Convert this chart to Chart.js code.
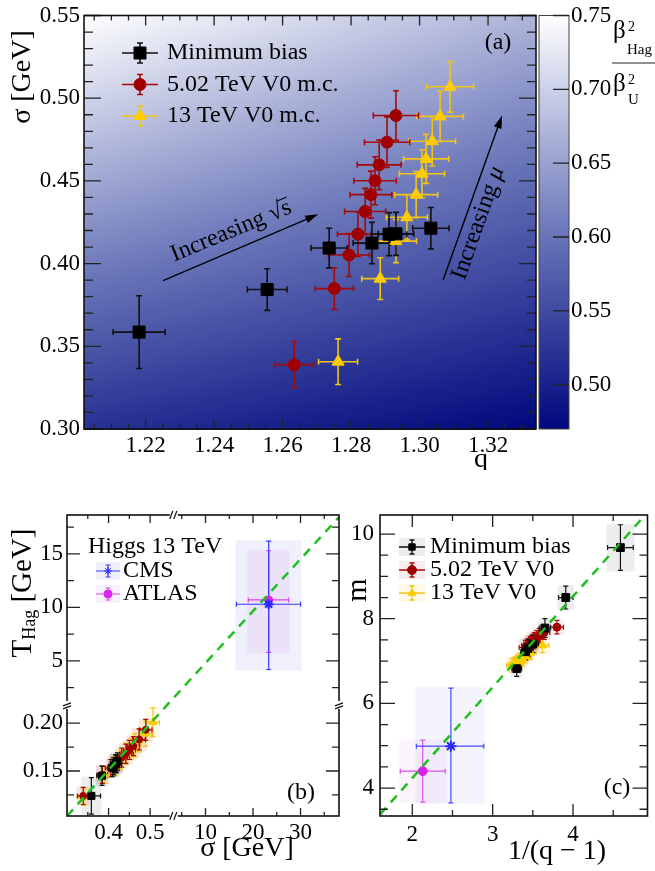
<!DOCTYPE html>
<html>
<head>
<meta charset="utf-8">
<script src="https://cdn.jsdelivr.net/npm/chart.js@4/dist/chart.umd.min.js"></script>
<style>
body { margin: 0; background: #fff; width: 655px; height: 871px; position: relative; overflow: hidden; }
canvas { position: absolute; }
</style>
</head>
<body>
<canvas id="ca" width="655" height="470" style="left:0;top:0"></canvas>
<canvas id="cb" width="346" height="381" style="left:0;top:490px"></canvas>
<canvas id="cc" width="309" height="381" style="left:346px;top:490px"></canvas>
<script>
// ---- panel (a): sigma vs q ----
var mbQ         = [1.2181, 1.2555, 1.2736, 1.2861, 1.2911, 1.2931, 1.3033];
var mbQErr      = [0.0076, 0.0058, 0.0053, 0.0055, 0.0052, 0.0052, 0.0053];
var mbSigma     = [0.3586, 0.3843, 0.4094, 0.4124, 0.4178, 0.4180, 0.4214];
var mbSigmaErr  = [0.0220, 0.0126, 0.0120, 0.0125, 0.0130, 0.0130, 0.0125];

var v5Q         = [1.2634, 1.2751, 1.2794, 1.2820, 1.2841, 1.2858, 1.2870, 1.2882, 1.2905, 1.2931];
var v5QErr      = [0.0056, 0.0056, 0.0060, 0.0060, 0.0060, 0.0061, 0.0062, 0.0064, 0.0066, 0.0066];
var v5Sigma     = [0.3389, 0.3849, 0.4052, 0.4178, 0.4315, 0.4417, 0.4501, 0.4597, 0.4734, 0.4895];
var v5SigmaErr  = [0.0140, 0.0126, 0.0130, 0.0135, 0.0140, 0.0142, 0.0145, 0.0150, 0.0152, 0.0150];

var v13Q        = [1.2762, 1.2885, 1.2931, 1.2963, 1.2990, 1.3007, 1.3019, 1.3037, 1.3060, 1.3089];
var v13QErr     = [0.0057, 0.0054, 0.0060, 0.0060, 0.0063, 0.0066, 0.0066, 0.0068, 0.0068, 0.0069];
var v13Sigma    = [0.3407, 0.3909, 0.4136, 0.4280, 0.4417, 0.4543, 0.4633, 0.4740, 0.4890, 0.5069];
var v13SigmaErr = [0.0138, 0.0126, 0.0130, 0.0135, 0.0140, 0.0145, 0.0148, 0.0150, 0.0152, 0.0153];

// background ratio beta_Hag^2 / beta_U^2 at the corners of panel (a)
var fieldQ     = [1.202, 1.334];
var fieldSigma = [0.30, 0.55];
var fieldVal   = [[0.52, 0.47], [0.75, 0.67]];
var cbStops    = [0.47, 0.61, 0.75];
var cbColors   = [[0, 8, 125], [112, 124, 188], [255, 255, 255]];

// ---- panel (b): T_Hag vs sigma ----
var mbT     = [0.124, 0.145, 0.153, 0.155, 0.158, 0.157, 0.160];
var mbTErr  = [0.019, 0.010, 0.009, 0.009, 0.009, 0.009, 0.009];
var v5T     = [0.124, 0.146, 0.153, 0.158, 0.164, 0.168, 0.172, 0.176, 0.183, 0.193];
var v5TErr  = [0.009, 0.009, 0.009, 0.009, 0.010, 0.010, 0.010, 0.010, 0.011, 0.011];
var v13T    = [0.123, 0.146, 0.155, 0.162, 0.168, 0.173, 0.177, 0.182, 0.189, 0.201];
var v13TErr = [0.009, 0.009, 0.010, 0.010, 0.011, 0.011, 0.012, 0.012, 0.013, 0.015];

var cmsSigma = [23.3], cmsSigmaErr = [[6.8, 6.7]], cmsT = [10.3], cmsTErr = [[6.1, 5.9]];
var atlSigma = [23.3], atlSigmaErr = [[4.3, 4.2]], atlT = [10.7], atlTErr = [[4.9, 4.6]];
var guideBX = [0.30, 0.541, 0.557, 38.1];
var guideBY = [0.103, 0.219, 1.57, 18.45];

// ---- panel (c): m vs 1/(q-1) ----
var mbInvQ     = [4.59, 3.91, 3.65, 3.50, 3.44, 3.41, 3.30];
var mbInvQErr  = [0.16, 0.09, 0.07, 0.07, 0.06, 0.06, 0.06];
var mbM        = [9.68, 8.50, 7.78, 7.40, 7.30, 7.22, 6.82];
var mbMErr     = [0.54, 0.27, 0.22, 0.20, 0.20, 0.20, 0.18];
var v5InvQ     = [3.80, 3.64, 3.58, 3.55, 3.52, 3.50, 3.48, 3.47, 3.44, 3.41];
var v5InvQErr  = [0.08, 0.07, 0.07, 0.07, 0.07, 0.07, 0.07, 0.08, 0.08, 0.08];
var v5M        = [7.80, 7.68, 7.60, 7.55, 7.50, 7.46, 7.42, 7.40, 7.36, 7.32];
var v5MErr     = [0.16, 0.17, 0.17, 0.17, 0.17, 0.17, 0.17, 0.17, 0.17, 0.17];
var v13InvQ    = [3.62, 3.47, 3.41, 3.37, 3.34, 3.33, 3.31, 3.29, 3.27, 3.24];
var v13InvQErr = [0.08, 0.07, 0.07, 0.07, 0.07, 0.07, 0.07, 0.07, 0.07, 0.07];
var v13M       = [7.37, 7.20, 7.12, 7.06, 7.02, 7.00, 6.97, 6.94, 6.92, 6.90];
var v13MErr    = [0.17, 0.16, 0.16, 0.16, 0.16, 0.16, 0.16, 0.16, 0.16, 0.16];

var cmsInvQ = [2.48], cmsInvQErr = [[0.43, 0.41]], cmsM = [4.99], cmsMErr = [[1.34, 1.37]];
var atlInvQ = [2.13], atlInvQErr = [[0.28, 0.28]], atlM = [4.40], atlMErr = [[0.73, 0.73]];
var guideCX = [1.60, 4.93];
var guideCY = [3.38, 10.52];

// ---- ticks ----
function range(a, b, step) {
  var out = [];
  for (var i = 0; a + i * step <= b + 1e-9; i++) out.push(+(a + i * step).toFixed(4));
  return out;
}
var aTicksX = range(1.205, 1.330, 0.005), aMajorX = [1.22, 1.24, 1.26, 1.28, 1.30, 1.32];
var aLabelsX = ['1.22', '1.24', '1.26', '1.28', '1.30', '1.32'];
var aTicksY = range(0.30, 0.55, 0.01), aMajorY = [0.30, 0.35, 0.40, 0.45, 0.50, 0.55];
var aLabelsY = ['0.30', '0.35', '0.40', '0.45', '0.50', '0.55'];
var cbMajor = [0.50, 0.55, 0.60, 0.65, 0.70, 0.75];
var cbLabels = ['0.50', '0.55', '0.60', '0.65', '0.70', '0.75'];
var bTicksX = [0.35, 0.4, 0.45, 0.5, 5, 10, 15, 20, 25, 30, 35], bMajorX = [0.4, 0.5, 10, 20, 30];
var bLabelsX = ['0.4', '0.5', '10', '20', '30'];
var bTicksY = [0.125, 0.15, 0.175, 0.2, 2.5, 5, 7.5, 10, 12.5, 15, 17.5], bMajorY = [0.15, 0.2, 5, 10, 15];
var bLabelsY = ['0.15', '0.20', '5', '10', '15'];
var cTicksX = range(2, 4.5, 0.5), cMajorX = [2, 3, 4], cLabelsX = ['2', '3', '4'];
var cTicksY = range(3.5, 10, 0.5), cMajorY = [4, 6, 8, 10], cLabelsY = ['4', '6', '8', '10'];

var SERIF = "'Liberation Serif', 'DejaVu Serif', serif";
Chart.defaults.font.family = SERIF;
Chart.defaults.color = '#000';
Chart.defaults.animation = false;

// piecewise linear scale for the broken axes of panel (b)
var breakSegs = {
  cb_x: [{ lo: 0.30, hi: 0.557, from: 0, to: 0.3927 }, { lo: 3.33, hi: 38.1, from: 0.3927, to: 1 }],
  cb_y: [{ lo: 0.103, hi: 0.219, from: 0, to: 0.369 }, { lo: 0.89, hi: 18.64, from: 0.369, to: 1 }]
};
class BrokenScale extends Chart.LinearScale {
  segs() { return breakSegs[this.chart.canvas.id + '_' + this.id]; }
  getPixelForValue(v) {
    var s = this.segs(), d = 0;
    for (var i = 0; i < s.length; i++) {
      var g = s[i];
      if (v <= g.hi || i === s.length - 1) {
        d = v < g.lo ? g.from : g.from + (v - g.lo) / (g.hi - g.lo) * (g.to - g.from);
        break;
      }
    }
    return this.getPixelForDecimal(d);
  }
  getValueForPixel(p) {
    var d = this.getDecimalForPixel(p), s = this.segs();
    for (var i = 0; i < s.length; i++) {
      var g = s[i];
      if (d <= g.to || i === s.length - 1) return g.lo + (d - g.from) / (g.to - g.from) * (g.hi - g.lo);
    }
  }
}
BrokenScale.id = 'broken';
BrokenScale.defaults = {};
Chart.register(BrokenScale);

function pts(xs, ys) { return xs.map(function (x, i) { return { x: x, y: ys[i] }; }); }
function two(e) { return Array.isArray(e) ? e : [e, e]; }
function labelFor(v, majors, labels) {
  for (var i = 0; i < majors.length; i++) if (Math.abs(v - majors[i]) < 1e-6) return labels[i];
  return '';
}

function axis(type, min, max, ticks, majors, labels, pos, size, pad) {
  return {
    type: type, position: pos, min: min, max: max,
    grid: { display: false, drawTicks: false }, border: { display: false },
    ticks: {
      autoSkip: false, maxRotation: 0, padding: pad, color: '#000',
      font: { size: 23, lineHeight: 1 },
      callback: function (v) { return labelFor(v, majors, labels); }
    },
    afterBuildTicks: function (s) { s.ticks = ticks.map(function (v) { return { value: v }; }); },
    afterFit: function (s) { if (pos === 'bottom') s.height = size; else s.width = size; }
  };
}

function cmap(v) {
  if (v <= cbStops[0]) return cbColors[0];
  for (var i = 1; i < cbStops.length; i++) {
    if (v <= cbStops[i]) {
      var t = (v - cbStops[i - 1]) / (cbStops[i] - cbStops[i - 1]);
      var a = cbColors[i - 1], b = cbColors[i];
      return [a[0] + t * (b[0] - a[0]), a[1] + t * (b[1] - a[1]), a[2] + t * (b[2] - a[2])];
    }
  }
  return cbColors[cbColors.length - 1];
}
function field(q, s) {
  var tq = Math.min(1, Math.max(0, (q - fieldQ[0]) / (fieldQ[1] - fieldQ[0])));
  var ts = Math.min(1, Math.max(0, (s - fieldSigma[0]) / (fieldSigma[1] - fieldSigma[0])));
  var lo = fieldVal[0][0] + tq * (fieldVal[0][1] - fieldVal[0][0]);
  var hi = fieldVal[1][0] + tq * (fieldVal[1][1] - fieldVal[1][0]);
  return lo + ts * (hi - lo);
}

function drawRuns(ctx, runs, x, y, rot, align) {
  ctx.save();
  ctx.translate(x, y);
  ctx.rotate((rot || 0) * Math.PI / 180);
  ctx.textBaseline = 'middle';
  ctx.textAlign = 'left';
  ctx.fillStyle = '#000';
  var w = 0;
  runs.forEach(function (r) {
    ctx.font = (r.it ? 'italic ' : '') + r.size + 'px ' + SERIF;
    r.w = ctx.measureText(r.t).width;
    w += r.w;
  });
  var cx = align === 'left' ? 0 : align === 'right' ? -w : -w / 2;
  runs.forEach(function (r) {
    var dy = r.dy || 0;
    ctx.font = (r.it ? 'italic ' : '') + r.size + 'px ' + SERIF;
    ctx.fillText(r.t, cx, dy);
    if (r.over) {
      ctx.strokeStyle = '#000';
      ctx.lineWidth = 1.2;
      ctx.beginPath();
      ctx.moveTo(cx - 1, dy - r.size * 0.43);
      ctx.lineTo(cx + r.w, dy - r.size * 0.43);
      ctx.stroke();
    }
    cx += r.w;
  });
  ctx.restore();
}

// error bars and shaded boxes, placed with the chart scales
function makeErrBars(lw, cap) {
  return {
    id: 'errBars',
    beforeDatasetsDraw: function (chart) {
      var ctx = chart.ctx, a = chart.chartArea, xs = chart.scales.x, ys = chart.scales.y;
      var sets = chart.data.datasets;
      ctx.save();
      ctx.beginPath();
      ctx.rect(a.left, a.top, a.right - a.left, a.bottom - a.top);
      ctx.clip();
      sets.forEach(function (ds) {
        if (!ds.boxColor || !ds.xErr) return;
        ctx.fillStyle = ds.boxColor;
        ds.data.forEach(function (p, i) {
          var ex = two(ds.xErr[i]), ey = two(ds.yErr[i]);
          var x0 = xs.getPixelForValue(p.x - ex[0]), x1 = xs.getPixelForValue(p.x + ex[1]);
          var y0 = ys.getPixelForValue(p.y + ey[1]), y1 = ys.getPixelForValue(p.y - ey[0]);
          ctx.fillRect(x0 - 1, y0 - 1, x1 - x0 + 2, y1 - y0 + 2);
        });
      });
      for (var k = sets.length - 1; k >= 0; k--) {
        var ds = sets[k];
        if (!ds.xErr) continue;
        ctx.strokeStyle = ds.errColor;
        ctx.lineWidth = lw;
        ctx.beginPath();
        ds.data.forEach(function (p, i) {
          var ex = two(ds.xErr[i]), ey = two(ds.yErr[i]);
          var px = xs.getPixelForValue(p.x), py = ys.getPixelForValue(p.y);
          var x0 = xs.getPixelForValue(p.x - ex[0]), x1 = xs.getPixelForValue(p.x + ex[1]);
          var y0 = ys.getPixelForValue(p.y + ey[1]), y1 = ys.getPixelForValue(p.y - ey[0]);
          ctx.moveTo(x0, py); ctx.lineTo(x1, py);
          ctx.moveTo(px, y0); ctx.lineTo(px, y1);
          ctx.moveTo(x0, py - cap); ctx.lineTo(x0, py + cap);
          ctx.moveTo(x1, py - cap); ctx.lineTo(x1, py + cap);
          ctx.moveTo(px - cap, y0); ctx.lineTo(px + cap, y0);
          ctx.moveTo(px - cap, y1); ctx.lineTo(px + cap, y1);
        });
        ctx.stroke();
      }
      ctx.restore();
    }
  };
}

// frame with inward ticks on all four sides
function makeFrame(t, breaks) {
  return {
    id: 'frame',
    afterDatasetsDraw: function (chart) {
      var ctx = chart.ctx, a = chart.chartArea, xs = chart.scales.x, ys = chart.scales.y;
      ctx.save();
      ctx.strokeStyle = '#222';
      ctx.lineWidth = 1.3;
      ctx.beginPath();
      xs.ticks.forEach(function (tk) {
        var p = xs.getPixelForValue(tk.value), L = tk.label ? t.xMajor : t.xMinor;
        ctx.moveTo(p, a.bottom); ctx.lineTo(p, a.bottom - L);
        ctx.moveTo(p, a.top); ctx.lineTo(p, a.top + L);
      });
      ys.ticks.forEach(function (tk) {
        var p = ys.getPixelForValue(tk.value), L = tk.label ? t.yMajor : t.yMinor;
        ctx.moveTo(a.left, p); ctx.lineTo(a.left + L, p);
        ctx.moveTo(a.right, p); ctx.lineTo(a.right - L, p);
      });
      ctx.stroke();
      ctx.strokeStyle = '#111';
      ctx.lineWidth = 1.6;
      ctx.strokeRect(a.left, a.top, a.right - a.left, a.bottom - a.top);
      if (breaks) {
        var xb = xs.getPixelForDecimal(breakSegs.cb_x[0].to);
        var yb = ys.getPixelForDecimal(breakSegs.cb_y[0].to);
        ctx.fillStyle = '#fff';
        ctx.fillRect(xb - 4, a.top - 3, 8, 6);
        ctx.fillRect(xb - 4, a.bottom - 3, 8, 6);
        ctx.fillRect(a.left - 3, yb - 4, 6, 8);
        ctx.fillRect(a.right - 3, yb - 4, 6, 8);
        ctx.lineWidth = 1.2;
        ctx.beginPath();
        [a.top, a.bottom].forEach(function (y) {
          ctx.moveTo(xb - 4, y + 4); ctx.lineTo(xb - 1, y - 4);
          ctx.moveTo(xb, y + 4); ctx.lineTo(xb + 3, y - 4);
        });
        [a.left, a.right].forEach(function (x) {
          ctx.moveTo(x - 4, yb + 1); ctx.lineTo(x + 4, yb - 2);
          ctx.moveTo(x - 4, yb + 4); ctx.lineTo(x + 4, yb + 1);
        });
        ctx.stroke();
      }
      ctx.restore();
    }
  };
}

function drawMarker(ctx, style, r, x, y) {
  if (Chart.helpers && Chart.helpers.drawPoint) {
    Chart.helpers.drawPoint(ctx, { pointStyle: style, radius: r, rotation: 0, borderWidth: 1 }, x, y);
  } else {
    ctx.beginPath(); ctx.arc(x, y, r, 0, 2 * Math.PI); ctx.fill();
  }
}

// legend rows with error-bar style keys
function makeLegend(cfg) {
  return {
    id: 'legendBox',
    afterDatasetsDraw: function (chart) {
      var ctx = chart.ctx;
      ctx.save();
      ctx.font = cfg.size + 'px ' + SERIF;
      ctx.textBaseline = 'middle';
      ctx.textAlign = 'left';
      if (cfg.header) { ctx.fillStyle = '#000'; ctx.fillText(cfg.header, cfg.hx, cfg.hy); }
      cfg.rows.forEach(function (k, i) {
        var ds = chart.data.datasets[k], x = cfg.x, y = cfg.y + i * cfg.dy;
        if (cfg.shade) {
          ctx.fillStyle = ds.boxColor;
          ctx.fillRect(x - cfg.half, y - cfg.shade, 2 * cfg.half, 2 * cfg.shade);
        }
        ctx.strokeStyle = ds.errColor;
        ctx.lineWidth = cfg.lw;
        ctx.beginPath();
        ctx.moveTo(x - cfg.half, y); ctx.lineTo(x + cfg.half, y);
        ctx.moveTo(x, y - cfg.bar); ctx.lineTo(x, y + cfg.bar);
        ctx.moveTo(x - cfg.cap, y - cfg.bar); ctx.lineTo(x + cfg.cap, y - cfg.bar);
        ctx.moveTo(x - cfg.cap, y + cfg.bar); ctx.lineTo(x + cfg.cap, y + cfg.bar);
        ctx.stroke();
        ctx.fillStyle = ds.backgroundColor;
        ctx.strokeStyle = ds.borderColor;
        ctx.lineWidth = 1;
        drawMarker(ctx, ds.pointStyle, cfg.r || ds.pointRadius, x, y);
        ctx.font = cfg.size + 'px ' + SERIF;
        ctx.fillStyle = '#000';
        ctx.fillText(ds.label, cfg.tx, y);
      });
      ctx.restore();
    }
  };
}

function makeTexts(items) {
  return {
    id: 'texts',
    afterDraw: function (chart) {
      var ctx = chart.ctx;
      items.forEach(function (it) {
        var x = it.x, y = it.y;
        if (it.at) { x = chart.scales.x.getPixelForValue(it.at[0]); y = chart.scales.y.getPixelForValue(it.at[1]); }
        drawRuns(ctx, it.runs, x, y, it.rot, it.align);
      });
    }
  };
}

function hadronSets(xsMB, ysMB, exMB, eyMB, x5, y5, ex5, ey5, x13, y13, ex13, ey13, r, shade) {
  return [
    { label: 'Minimum bias', data: pts(xsMB, ysMB), xErr: exMB, yErr: eyMB, pointStyle: 'rect',
      pointRadius: r[0], backgroundColor: '#000', borderColor: '#000', errColor: '#111',
      boxColor: shade ? 'rgba(60,60,60,0.09)' : null },
    { label: '5.02 TeV V0', data: pts(x5, y5), xErr: ex5, yErr: ey5, pointStyle: 'circle',
      pointRadius: r[1], backgroundColor: '#a00000', borderColor: '#a00000', errColor: '#a40a0a',
      boxColor: shade ? 'rgba(170,20,20,0.08)' : null },
    { label: '13 TeV V0', data: pts(x13, y13), xErr: ex13, yErr: ey13, pointStyle: 'triangle',
      pointRadius: r[2], backgroundColor: '#ffcc00', borderColor: '#ffcc00', errColor: '#f0c419',
      boxColor: shade ? 'rgba(255,190,0,0.09)' : null }
  ];
}

// ================= panel (a) =================
var setsA = hadronSets(mbQ, mbSigma, mbQErr, mbSigmaErr, v5Q, v5Sigma, v5QErr, v5SigmaErr,
                       v13Q, v13Sigma, v13QErr, v13SigmaErr, [8.5, 6, 7], false);
setsA[1].label = '5.02 TeV V0 m.c.';
setsA[2].label = '13 TeV V0 m.c.';

var backgroundA = {
  id: 'fieldBg',
  beforeDatasetsDraw: function (chart) {
    var ctx = chart.ctx, a = chart.chartArea, xs = chart.scales.x, ys = chart.scales.y;
    var w = Math.round(a.right - a.left), h = Math.round(a.bottom - a.top);
    var off = document.createElement('canvas');
    off.width = w; off.height = h;
    var octx = off.getContext('2d'), img = octx.createImageData(w, h);
    for (var j = 0; j < h; j++) {
      var s = ys.getValueForPixel(a.top + j + 0.5);
      for (var i = 0; i < w; i++) {
        var c = cmap(field(xs.getValueForPixel(a.left + i + 0.5), s)), o = (j * w + i) * 4;
        img.data[o] = c[0]; img.data[o + 1] = c[1]; img.data[o + 2] = c[2]; img.data[o + 3] = 255;
      }
    }
    octx.putImageData(img, 0, 0);
    ctx.drawImage(off, a.left, a.top);

    // colour bar on the hidden 'cb' scale
    var cb = chart.scales.cb, x0 = a.right + 3, x1 = x0 + 30;
    var yTop = cb.getPixelForValue(cbStops[cbStops.length - 1]), yBot = cb.getPixelForValue(cbStops[0]);
    var g = ctx.createLinearGradient(0, yBot, 0, yTop);
    cbStops.forEach(function (v, i) {
      var c = cbColors[i];
      g.addColorStop((v - cbStops[0]) / (cbStops[cbStops.length - 1] - cbStops[0]),
        'rgb(' + c.map(Math.round).join(',') + ')');
    });
    ctx.save();
    ctx.fillStyle = g;
    ctx.fillRect(x0, yTop, x1 - x0, yBot - yTop);
    ctx.strokeStyle = '#444';
    ctx.lineWidth = 1;
    ctx.strokeRect(x0, yTop, x1 - x0, yBot - yTop);
    ctx.strokeStyle = '#222';
    ctx.lineWidth = 1.3;
    ctx.beginPath();
    cbMajor.forEach(function (v) {
      var p = cb.getPixelForValue(v);
      ctx.moveTo(x1, p); ctx.lineTo(x1 - 16, p);
    });
    ctx.stroke();
    ctx.fillStyle = '#000';
    ctx.font = '23px ' + SERIF;
    ctx.textAlign = 'left';
    ctx.textBaseline = 'middle';
    cbMajor.forEach(function (v, i) { ctx.fillText(cbLabels[i], x1 + 2, cb.getPixelForValue(v)); });

    // colour bar title: beta_Hag^2 / beta_U^2
    ctx.textBaseline = 'alphabetic';
    ctx.font = '25px ' + SERIF; ctx.fillText('\u03b2', 613, 38);
    ctx.font = '14px ' + SERIF; ctx.fillText('2', 628, 31);
    ctx.font = '15px ' + SERIF; ctx.fillText('Hag', 627, 54);
    ctx.font = '25px ' + SERIF; ctx.fillText('\u03b2', 613, 91);
    ctx.font = '14px ' + SERIF; ctx.fillText('2', 628, 84);
    ctx.font = '15px ' + SERIF; ctx.fillText('U', 628, 104);
    ctx.lineWidth = 1.2;
    ctx.beginPath(); ctx.moveTo(612, 63); ctx.lineTo(655, 63); ctx.stroke();
    ctx.restore();
  }
};

var arrowsA = [
  { from: [1.2251, 0.3897], to: [1.2704, 0.4298] },
  { from: [1.3069, 0.3903], to: [1.3241, 0.4896] }
];
var arrowPlugin = {
  id: 'arrows',
  afterDatasetsDraw: function (chart) {
    var ctx = chart.ctx, xs = chart.scales.x, ys = chart.scales.y;
    ctx.save();
    ctx.strokeStyle = '#000'; ctx.fillStyle = '#000'; ctx.lineWidth = 1.4;
    arrowsA.forEach(function (ar) {
      var x0 = xs.getPixelForValue(ar.from[0]), y0 = ys.getPixelForValue(ar.from[1]);
      var x1 = xs.getPixelForValue(ar.to[0]), y1 = ys.getPixelForValue(ar.to[1]);
      var ang = Math.atan2(y1 - y0, x1 - x0);
      ctx.beginPath(); ctx.moveTo(x0, y0); ctx.lineTo(x1 - 6 * Math.cos(ang), y1 - 6 * Math.sin(ang)); ctx.stroke();
      ctx.beginPath();
      ctx.moveTo(x1, y1);
      ctx.lineTo(x1 - 13 * Math.cos(ang) + 4 * Math.sin(ang), y1 - 13 * Math.sin(ang) - 4 * Math.cos(ang));
      ctx.lineTo(x1 - 13 * Math.cos(ang) - 4 * Math.sin(ang), y1 - 13 * Math.sin(ang) + 4 * Math.cos(ang));
      ctx.closePath(); ctx.fill();
    });
    ctx.restore();
  }
};

new Chart(document.getElementById('ca'), {
  type: 'scatter',
  data: { datasets: setsA },
  options: {
    responsive: false,
    animation: false,
    layout: { padding: { left: 0, top: 12, right: 119, bottom: 0 } },
    plugins: { legend: { display: false }, tooltip: { enabled: false } },
    elements: { point: { borderWidth: 1 } },
    scales: {
      x: axis('linear', 1.202, 1.334, aTicksX, aMajorX, aLabelsX, 'bottom', 41, 5),
      y: axis('linear', 0.30, 0.55, aTicksY, aMajorY, aLabelsY, 'left', 84, 4),
      cb: { type: 'linear', position: 'right', display: false, min: cbStops[0], max: cbStops[cbStops.length - 1] }
    }
  },
  plugins: [
    backgroundA,
    makeErrBars(1.6, 3),
    arrowPlugin,
    makeFrame({ xMajor: 10, xMinor: 5, yMajor: 17, yMinor: 9 }, false),
    makeLegend({ rows: [0, 1, 2], x: 140, tx: 167, y: 53, dy: 31.5, size: 24, half: 18, bar: 10, cap: 3, lw: 1.6 }),
    makeTexts([
      { runs: [{ t: '\u03c3 [GeV]', size: 28 }], x: 23, y: 77, rot: -90, align: 'center' },
      { runs: [{ t: 'q', size: 28 }], x: 481, y: 460, align: 'center' },
      { runs: [{ t: '(a)', size: 24 }], x: 498, y: 43, align: 'center' },
      { runs: [{ t: 'Increasing \u221a', size: 24 }, { t: 's', size: 24, over: true }],
        at: [1.2450, 0.4196], rot: -22.5, align: 'center' },
      { runs: [{ t: 'Increasing ', size: 24 }, { t: '\u03bc', size: 24, it: true }],
        at: [1.3171, 0.4244], rot: -70.6, align: 'center' }
    ])
  ]
});

// ================= panel (b) =================
var setsB = [
  { label: 'guide', data: pts(guideBX, guideBY), showLine: true, pointRadius: 0,
    borderColor: '#1fbf1f', borderWidth: 2.5, borderDash: [9, 7] },
  { label: 'CMS', data: pts(cmsSigma, cmsT), xErr: cmsSigmaErr, yErr: cmsTErr, pointStyle: 'star',
    pointRadius: 5, backgroundColor: '#2a2aff', borderColor: '#2a2aff', borderWidth: 2,
    errColor: '#3a3aff', boxColor: 'rgba(110,110,230,0.10)' },
  { label: 'ATLAS', data: pts(atlSigma, atlT), xErr: atlSigmaErr, yErr: atlTErr, pointStyle: 'circle',
    pointRadius: 4, backgroundColor: '#dd22ee', borderColor: '#dd22ee',
    errColor: '#e040f0', boxColor: 'rgba(200,110,235,0.10)' }
].concat(hadronSets(mbSigma, mbT, mbSigmaErr, mbTErr, v5Sigma, v5T, v5SigmaErr, v5TErr,
                    v13Sigma, v13T, v13SigmaErr, v13TErr, [5, 3.5, 4.5], true));

new Chart(document.getElementById('cb'), {
  type: 'scatter',
  data: { datasets: setsB },
  options: {
    responsive: false,
    animation: false,
    layout: { padding: { left: 0, top: 25, right: 4, bottom: 0 } },
    plugins: { legend: { display: false }, tooltip: { enabled: false } },
    scales: {
      x: axis('broken', 0.30, 38.1, bTicksX, bMajorX, bLabelsX, 'bottom', 55, 5),
      y: axis('broken', 0.103, 18.64, bTicksY, bMajorY, bLabelsY, 'left', 67, 4)
    }
  },
  plugins: [
    makeErrBars(1.2, 2.5),
    makeFrame({ xMajor: 8, xMinor: 4, yMajor: 13, yMinor: 7 }, true),
    makeLegend({ rows: [1, 2], header: 'Higgs 13 TeV', hx: 88, hy: 57, x: 108, tx: 123, y: 81, dy: 23,
                 size: 24, half: 12, bar: 6, cap: 2.5, lw: 1.2, shade: 9, r: 4 }),
    makeTexts([
      { runs: [{ t: 'T', size: 29 }, { t: 'Hag', size: 18, dy: 7 }, { t: ' [GeV]', size: 29 }],
        x: 23, y: 103, rot: -90, align: 'center' },
      { runs: [{ t: '\u03c3 [GeV]', size: 28 }], x: 247, y: 359, align: 'center' },
      { runs: [{ t: '(b)', size: 24 }], x: 301, y: 303, align: 'center' }
    ])
  ]
});

// ================= panel (c) =================
var setsC = [
  { label: 'guide', data: pts(guideCX, guideCY), showLine: true, pointRadius: 0,
    borderColor: '#1fbf1f', borderWidth: 2.5, borderDash: [9, 7] }
].concat(hadronSets(mbInvQ, mbM, mbInvQErr, mbMErr, v5InvQ, v5M, v5InvQErr, v5MErr,
                    v13InvQ, v13M, v13InvQErr, v13MErr, [5.5, 4, 5], true))
 .concat([
  { label: 'CMS', data: pts(cmsInvQ, cmsM), xErr: cmsInvQErr, yErr: cmsMErr, pointStyle: 'star',
    pointRadius: 5.5, backgroundColor: '#2a2aff', borderColor: '#2a2aff', borderWidth: 2,
    errColor: '#4a4aff', boxColor: 'rgba(110,110,230,0.08)' },
  { label: 'ATLAS', data: pts(atlInvQ, atlM), xErr: atlInvQErr, yErr: atlMErr, pointStyle: 'circle',
    pointRadius: 4.5, backgroundColor: '#dd22ee', borderColor: '#dd22ee',
    errColor: '#e050f0', boxColor: 'rgba(200,110,235,0.08)' }
]);

new Chart(document.getElementById('cc'), {
  type: 'scatter',
  data: { datasets: setsC },
  options: {
    responsive: false,
    animation: false,
    layout: { padding: { left: 0, top: 25, right: 2, bottom: 0 } },
    plugins: { legend: { display: false }, tooltip: { enabled: false } },
    scales: {
      x: axis('linear', 1.598, 4.927, cTicksX, cMajorX, cLabelsX, 'bottom', 55, 7),
      y: axis('linear', 3.34, 10.45, cTicksY, cMajorY, cLabelsY, 'left', 34, 6)
    }
  },
  plugins: [
    makeErrBars(1.2, 2.5),
    makeFrame({ xMajor: 12, xMinor: 6, yMajor: 15, yMinor: 8 }, false),
    makeLegend({ rows: [1, 2, 3], x: 66, tx: 84, y: 57, dy: 23, size: 24, half: 13, bar: 7, cap: 2.5, lw: 1.4, shade: 9, r: 4.5 }),
    makeTexts([
      { runs: [{ t: 'm', size: 30 }], x: 12, y: 100, rot: -90, align: 'center' },
      { runs: [{ t: '1/(q \u2212 1)', size: 28 }], x: 211, y: 362, align: 'center' },
      { runs: [{ t: '(c)', size: 24 }], x: 271, y: 298, align: 'center' }
    ])
  ]
});
</script>
</body>
</html>
